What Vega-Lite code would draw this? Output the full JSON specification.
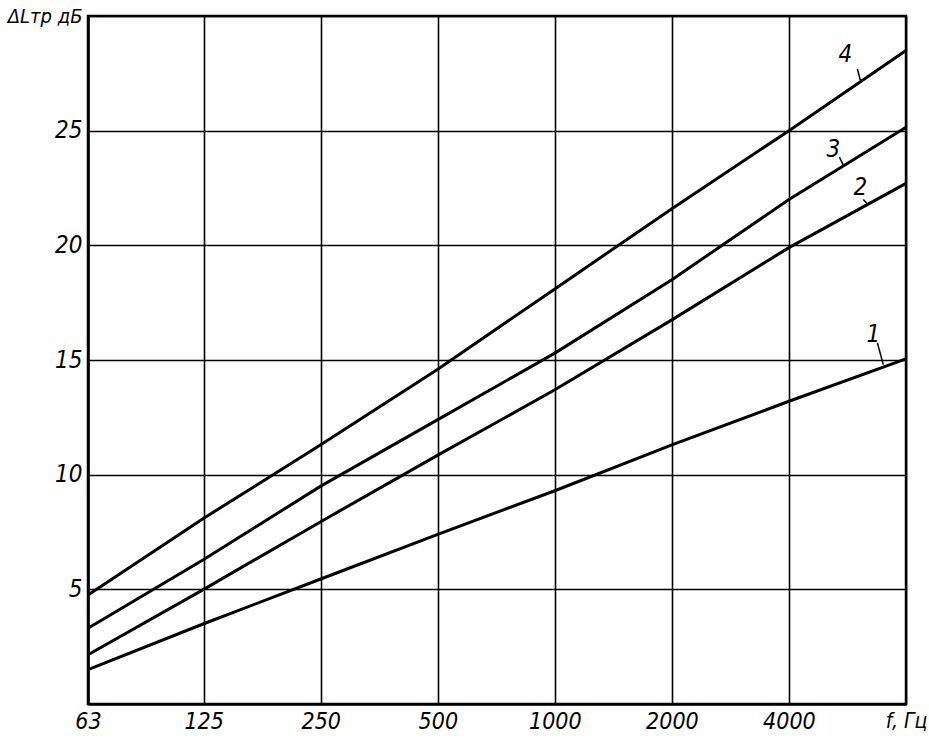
{
  "$schema": "https://vega.github.io/schema/vega-lite/v6.json",
  "width": 818,
  "height": 688,
  "autosize": {"type": "none"},
  "padding": {"left": 88, "top": 16, "right": 23, "bottom": 43},
  "background": "white",
  "config": {
    "view": {"stroke": "black", "strokeWidth": 2.5},
    "font": "DejaVu Sans Condensed"
  },
  "datasets": {
    "curves": [
      {"f": 63, "L": 1.5, "curve": "1"}, {"f": 125, "L": 3.5, "curve": "1"}, {"f": 250, "L": 5.45, "curve": "1"}, {"f": 500, "L": 7.4, "curve": "1"},
      {"f": 1000, "L": 9.3, "curve": "1"}, {"f": 2000, "L": 11.3, "curve": "1"}, {"f": 4000, "L": 13.2, "curve": "1"}, {"f": 8000, "L": 15.05, "curve": "1"},
      {"f": 63, "L": 2.15, "curve": "2"}, {"f": 125, "L": 5.0, "curve": "2"}, {"f": 250, "L": 7.95, "curve": "2"}, {"f": 500, "L": 10.85, "curve": "2"},
      {"f": 1000, "L": 13.7, "curve": "2"}, {"f": 2000, "L": 16.75, "curve": "2"}, {"f": 4000, "L": 19.9, "curve": "2"}, {"f": 8000, "L": 22.7, "curve": "2"},
      {"f": 63, "L": 3.3, "curve": "3"}, {"f": 125, "L": 6.3, "curve": "3"}, {"f": 250, "L": 9.5, "curve": "3"}, {"f": 500, "L": 12.4, "curve": "3"},
      {"f": 1000, "L": 15.3, "curve": "3"}, {"f": 2000, "L": 18.5, "curve": "3"}, {"f": 4000, "L": 22.0, "curve": "3"}, {"f": 8000, "L": 25.15, "curve": "3"},
      {"f": 63, "L": 4.75, "curve": "4"}, {"f": 125, "L": 8.1, "curve": "4"}, {"f": 250, "L": 11.3, "curve": "4"}, {"f": 500, "L": 14.6, "curve": "4"},
      {"f": 1000, "L": 18.1, "curve": "4"}, {"f": 2000, "L": 21.6, "curve": "4"}, {"f": 4000, "L": 25.0, "curve": "4"}, {"f": 8000, "L": 28.5, "curve": "4"}
    ],
    "labels": [
      {"f": 5583, "L": 28.3, "text": "4"},
      {"f": 5203, "L": 24.15, "text": "3"},
      {"f": 6105, "L": 22.5, "text": "2"},
      {"f": 6592, "L": 16.1, "text": "1"}
    ],
    "leaders": [
      {"f": 5997, "L": 27.7, "f2": 6105, "L2": 27.2},
      {"f": 5392, "L": 23.85, "f2": 5519, "L2": 23.5},
      {"f": 6213, "L": 22.0, "f2": 6363, "L2": 21.8},
      {"f": 6752, "L": 15.75, "f2": 6993, "L2": 14.8}
    ]
  },
  "layer": [
    {
      "data": {"name": "curves"},
      "mark": {"type": "line", "color": "black", "strokeWidth": 3},
      "encoding": {
        "x": {
          "field": "f", "type": "quantitative",
          "scale": {"type": "log", "base": 2, "domain": [63, 8000], "nice": false},
          "axis": {
            "values": [63, 125, 250, 500, 1000, 2000, 4000, 8000],
            "labelExpr": "datum.value == 8000 ? 'f, Гц' : format(datum.value, 'd')",
            "title": null,
            "grid": true, "gridColor": "black", "gridWidth": 1.6, "gridOpacity": 1,
            "ticks": false,
            "domainColor": "black", "domainWidth": 2.5,
            "labelColor": "black", "labelFontSize": {"expr": "datum.value == 8000 ? 21 : 23"}, "labelFontStyle": "italic",
            "labelPadding": 6, "labelFlush": false, "labelOverlap": false,
            "labelFont": "DejaVu Sans Condensed"
          }
        },
        "y": {
          "field": "L", "type": "quantitative",
          "scale": {"domain": [0, 30], "nice": false},
          "axis": {
            "values": [5, 10, 15, 20, 25, 30],
            "labelExpr": "datum.value == 30 ? 'ΔLтр дБ' : datum.label",
            "title": null,
            "grid": true, "gridColor": "black", "gridWidth": 1.6, "gridOpacity": 1,
            "ticks": false,
            "domainColor": "black", "domainWidth": 2.5,
            "labelColor": "black", "labelFontSize": {"expr": "datum.value == 30 ? 20 : 24"}, "labelFontStyle": "italic",
            "labelPadding": 6, "labelFlush": false, "labelOverlap": false,
            "labelFont": "DejaVu Sans Condensed"
          }
        },
        "detail": {"field": "curve", "type": "nominal"}
      }
    },
    {
      "data": {"name": "leaders"},
      "mark": {"type": "rule", "color": "black", "strokeWidth": 1.5},
      "encoding": {
        "x": {"field": "f", "type": "quantitative"},
        "y": {"field": "L", "type": "quantitative"},
        "x2": {"field": "f2"},
        "y2": {"field": "L2"}
      }
    },
    {
      "data": {"name": "labels"},
      "mark": {"type": "text", "color": "black", "fontSize": 24, "fontStyle": "italic", "font": "DejaVu Sans Condensed", "align": "center", "baseline": "middle"},
      "encoding": {
        "x": {"field": "f", "type": "quantitative"},
        "y": {"field": "L", "type": "quantitative"},
        "text": {"field": "text", "type": "nominal"}
      }
    }
  ]
}
